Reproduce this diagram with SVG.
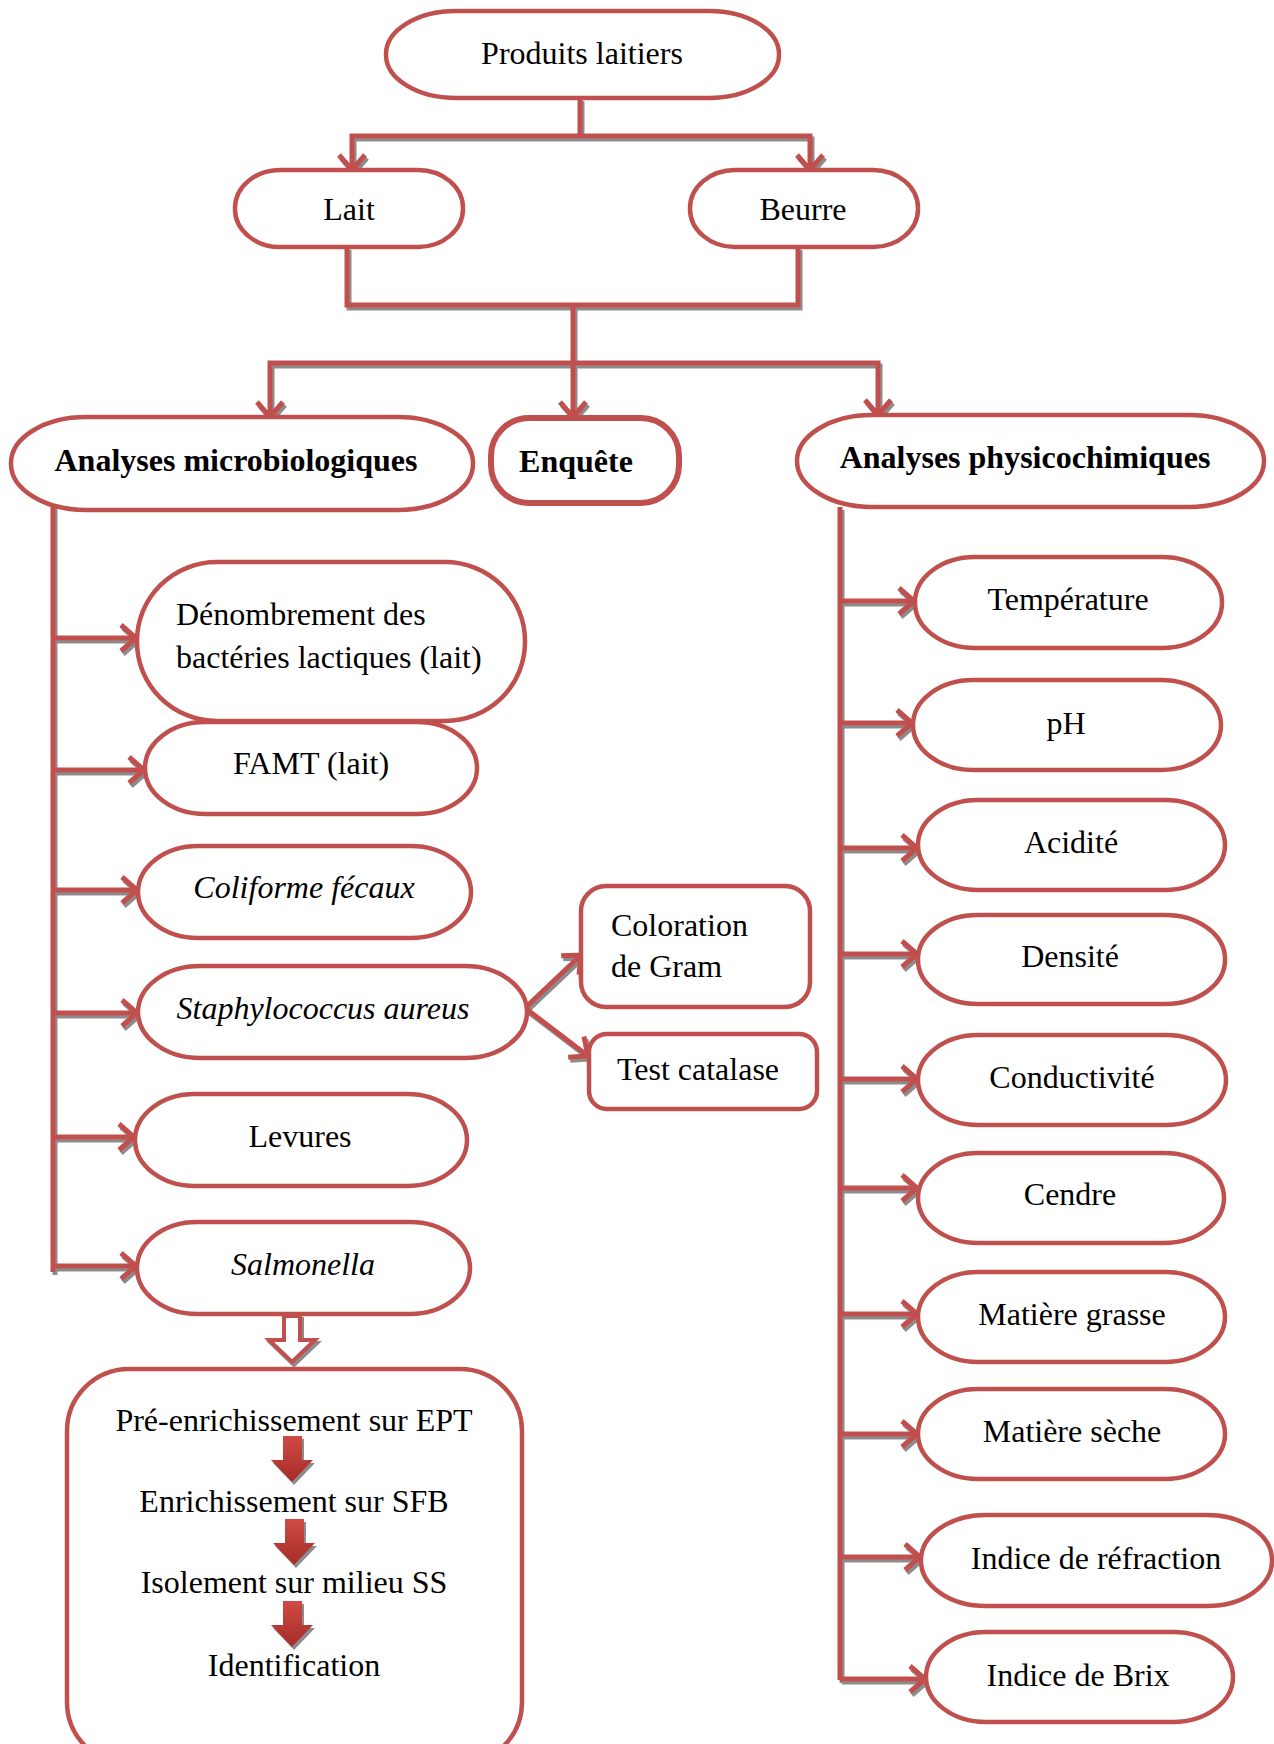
<svg xmlns="http://www.w3.org/2000/svg" width="1274" height="1744" viewBox="0 0 1274 1744">
<defs>
<style>
.n{fill:#fff;stroke:#C0504D;stroke-width:4.5}
.t{font-family:"Liberation Serif","Times New Roman",serif;font-size:32px;fill:#000;text-anchor:middle}
.l{text-anchor:start}
.b{font-weight:bold}
.i{font-style:italic}
.c{fill:none;stroke:#C0504D;stroke-width:5}
</style>
<marker id="ah" markerUnits="userSpaceOnUse" markerWidth="32" markerHeight="32" viewBox="0 0 32 32" refX="27" refY="16" orient="auto">
<path d="M12,3 L27,16 L12,29" fill="none" stroke="#C0504D" stroke-width="5" stroke-linejoin="miter"/>
</marker>
<filter id="sh" x="-20%" y="-20%" width="140%" height="140%">
<feDropShadow dx="2" dy="3" stdDeviation="0.6" flood-color="#7f7f7f" flood-opacity="0.9"/>
</filter>
<linearGradient id="rg" x1="0" y1="0" x2="0" y2="1">
<stop offset="0" stop-color="#D04A45"/>
<stop offset="1" stop-color="#A52C28"/>
</linearGradient>
</defs>

<g id="connectors" filter="url(#sh)">
<path class="c" d="M580,98 V136"/>
<path class="c" d="M580,136 H352 V170" marker-end="url(#ah)"/>
<path class="c" d="M580,136 H810 V170" marker-end="url(#ah)"/>
<path class="c" d="M347,247 V305 H798 V247"/>
<path class="c" d="M573,305 V417" marker-end="url(#ah)"/>
<path class="c" d="M573,363 H270 V417" marker-end="url(#ah)"/>
<path class="c" d="M573,363 H878 V415" marker-end="url(#ah)"/>
<path class="c" d="M53,503 V1272"/>
<path class="c" d="M53,638 H136" marker-end="url(#ah)"/>
<path class="c" d="M53,770 H144" marker-end="url(#ah)"/>
<path class="c" d="M53,890 H137" marker-end="url(#ah)"/>
<path class="c" d="M53,1013 H137" marker-end="url(#ah)"/>
<path class="c" d="M53,1137 H134" marker-end="url(#ah)"/>
<path class="c" d="M53,1266 H136" marker-end="url(#ah)"/>
<path class="c" d="M525,1008 L581,955" marker-end="url(#ah)"/>
<path class="c" d="M525,1008 L588,1056" marker-end="url(#ah)"/>
<path class="c" d="M840,507 V1680"/>
<path class="c" d="M840,601 H914" marker-end="url(#ah)"/>
<path class="c" d="M840,723 H912" marker-end="url(#ah)"/>
<path class="c" d="M840,848 H917" marker-end="url(#ah)"/>
<path class="c" d="M840,954 H917" marker-end="url(#ah)"/>
<path class="c" d="M840,1079 H917" marker-end="url(#ah)"/>
<path class="c" d="M840,1188 H917" marker-end="url(#ah)"/>
<path class="c" d="M840,1314 H917" marker-end="url(#ah)"/>
<path class="c" d="M840,1434 H917" marker-end="url(#ah)"/>
<path class="c" d="M840,1557 H920" marker-end="url(#ah)"/>
<path class="c" d="M840,1679 H925" marker-end="url(#ah)"/>
<path d="M284,1316 H300 V1340 H315 L292,1362 L269,1340 H284 Z" fill="#fff" stroke="#C0504D" stroke-width="4"/>
</g>

<g id="produits"><rect class="n" x="386" y="11" width="393" height="87" rx="70" ry="43"/><text class="t" x="582" y="64">Produits laitiers</text></g>
<g id="lait"><rect class="n" x="235" y="170" width="228" height="77" rx="45" ry="38"/><text class="t" x="349" y="220">Lait</text></g>
<g id="beurre"><rect class="n" x="690" y="170" width="228" height="77" rx="45" ry="38"/><text class="t" x="803" y="220">Beurre</text></g>

<g id="micro"><rect class="n" x="11" y="417" width="462" height="93" rx="75" ry="46"/><text class="t b" x="236" y="471">Analyses microbiologiques</text></g>
<g id="enquete"><rect class="n" x="491" y="418" width="188" height="85" rx="38" ry="38" style="stroke-width:6"/><text class="t b" x="576" y="472">Enquête</text></g>
<g id="physico"><rect class="n" x="797" y="415" width="467" height="92" rx="75" ry="46"/><text class="t b" x="1025" y="468">Analyses physicochimiques</text></g>

<g id="denombrement"><rect class="n" x="137" y="562" width="388" height="159" rx="80" ry="79"/><text class="t l" x="176" y="625">Dénombrement des</text><text class="t l" x="176" y="668">bactéries lactiques (lait)</text></g>
<g id="famt"><rect class="n" x="145" y="722" width="332" height="92" rx="60" ry="46"/><text class="t" x="311" y="774">FAMT (lait)</text></g>
<g id="coliforme"><rect class="n" x="138" y="846" width="333" height="92" rx="60" ry="46"/><text class="t i" x="304" y="898">Coliforme fécaux</text></g>
<g id="staph"><rect class="n" x="138" y="966" width="389" height="92" rx="62" ry="46"/><text class="t i" x="323" y="1019">Staphylococcus aureus</text></g>
<g id="levures"><rect class="n" x="135" y="1094" width="332" height="92" rx="60" ry="46"/><text class="t" x="300" y="1147">Levures</text></g>
<g id="salmonella"><rect class="n" x="137" y="1222" width="333" height="92" rx="60" ry="46"/><text class="t i" x="303" y="1275">Salmonella</text></g>

<g id="gram"><rect class="n" x="581" y="886" width="229" height="121" rx="25" ry="25"/><text class="t l" x="611" y="936">Coloration</text><text class="t l" x="611" y="977">de Gram</text></g>
<g id="catalase"><rect class="n" x="589" y="1034" width="228" height="75" rx="18" ry="18"/><text class="t" x="698" y="1080">Test catalase</text></g>

<g id="procedure">
<rect class="n" x="67" y="1369" width="455" height="395" rx="62" ry="62"/>
<text class="t" x="294" y="1431">Pré-enrichissement sur EPT</text>
<text class="t" x="294" y="1512">Enrichissement sur SFB</text>
<text class="t" x="294" y="1593">Isolement sur milieu SS</text>
<text class="t" x="294" y="1676">Identification</text>
<g filter="url(#sh)" fill="url(#rg)">
<path d="M283,1436 H302 V1460 H313 L292,1482 L271,1460 H283 Z"/>
<path d="M285,1519 H304 V1543 H315 L294,1565 L273,1543 H285 Z"/>
<path d="M283,1601 H302 V1625 H313 L292,1647 L271,1625 H283 Z"/>
</g>
</g>

<g id="temperature"><rect class="n" x="915" y="557" width="307" height="91" rx="60" ry="45"/><text class="t" x="1068" y="610">Température</text></g>
<g id="ph"><rect class="n" x="913" y="680" width="308" height="90" rx="60" ry="45"/><text class="t" x="1066" y="734">pH</text></g>
<g id="acidite"><rect class="n" x="918" y="800" width="307" height="90" rx="60" ry="45"/><text class="t" x="1071" y="853">Acidité</text></g>
<g id="densite"><rect class="n" x="918" y="915" width="307" height="89" rx="60" ry="44"/><text class="t" x="1070" y="967">Densité</text></g>
<g id="conductivite"><rect class="n" x="918" y="1035" width="308" height="90" rx="60" ry="45"/><text class="t" x="1072" y="1088">Conductivité</text></g>
<g id="cendre"><rect class="n" x="918" y="1153" width="306" height="90" rx="60" ry="45"/><text class="t" x="1070" y="1205">Cendre</text></g>
<g id="grasse"><rect class="n" x="918" y="1272" width="307" height="90" rx="60" ry="45"/><text class="t" x="1072" y="1325">Matière grasse</text></g>
<g id="seche"><rect class="n" x="918" y="1389" width="307" height="90" rx="60" ry="45"/><text class="t" x="1072" y="1442">Matière sèche</text></g>
<g id="refraction"><rect class="n" x="921" y="1515" width="351" height="91" rx="65" ry="45"/><text class="t" x="1096" y="1569">Indice de réfraction</text></g>
<g id="brix"><rect class="n" x="926" y="1632" width="307" height="90" rx="60" ry="45"/><text class="t" x="1078" y="1686">Indice de Brix</text></g>
</svg>
